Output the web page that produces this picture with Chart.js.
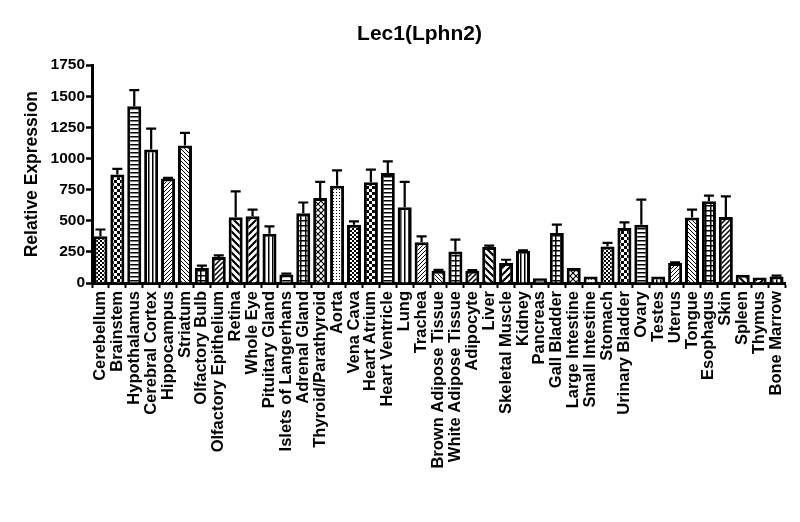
<!DOCTYPE html>
<html>
<head>
<meta charset="utf-8">
<script src="https://cdn.jsdelivr.net/npm/chart.js@4.4.1/dist/chart.umd.min.js"></script>
<style>
  body { margin: 0; background: #fff; }
  #wrap { width: 800px; height: 522px; }
</style>
</head>
<body>
<div id="wrap"><canvas id="chart" width="800" height="522"></canvas></div>
<script>
// Datos
const tissues = ["Cerebellum", "Brainstem", "Hypothalamus", "Cerebral Cortex", "Hippocampus", "Striatum",
    "Olfactory Bulb", "Olfactory Epithelium", "Retina", "Whole Eye", "Pituitary Gland", "Islets of Langerhans",
    "Adrenal Gland", "Thyroid/Parathyroid", "Aorta", "Vena Cava", "Heart Atrium", "Heart Ventricle", "Lung",
    "Trachea", "Brown Adipose Tissue", "White Adipose Tissue", "Adipocyte", "Liver", "Skeletal Muscle", "Kidney",
    "Pancreas", "Gall Bladder", "Large Intestine", "Small Intestine", "Stomach", "Urinary Bladder", "Ovary",
    "Testes", "Uterus", "Tongue", "Esophagus", "Skin", "Spleen", "Thymus", "Bone Marrow"];

const expression = [375, 871, 1420, 1072, 839, 1104, 121, 209, 528, 536, 396, 69, 560, 683, 782, 469, 809,
    884, 608, 327, 99, 254, 99, 289, 161, 260, 38, 402, 121, 53, 294, 442, 469, 53, 161, 527, 656, 531, 67, 45, 53];

const sem = [55, 46, 129, 169, 6, 102, 18, 13, 209, 53, 59, 6, 87, 129, 123, 26, 102, 94, 204, 48, 6, 94, 4,
    11, 26, 2, 0, 67, 0, 0, 28, 45, 201, 0, 4, 62, 46, 165, 0, 0, 7];

const yTicks = [0, 250, 500, 750, 1000, 1250, 1500, 1750];

// Tramas en blanco y negro, se repiten cada 15 barras
const patternKinds = ['fineChecker', 'checker', 'hLines', 'vLines', 'fineSlash', 'fineBack', 'grid',
    'slash', 'wideBack', 'wideSlash', 'vLines', 'hWide', 'grid', 'diamond', 'dots'];

function diag(g, s, dir) {
    g.beginPath();
    for (let k = -1; k <= 1; k++) {
        if (dir > 0) {
            g.moveTo(k * s - 1, s + 1);
            g.lineTo(k * s + s + 1, -1);
        } else {
            g.moveTo(k * s - 1, -1);
            g.lineTo(k * s + s + 1, s + 1);
        }
    }
    g.stroke();
}

function makePattern(ctx, kind) {
    const sizes = { fineChecker: 4, checker: 6, hLines: 4, vLines: 4, fineSlash: 4, fineBack: 4, grid: 5,
        slash: 5, wideBack: 7, wideSlash: 7, hWide: 7, diamond: 6, dots: 3 };
    const s = sizes[kind];
    const c = document.createElement('canvas');
    c.width = s; c.height = s;
    const g = c.getContext('2d');
    g.fillStyle = '#fff';
    g.fillRect(0, 0, s, s);
    g.fillStyle = '#000';
    g.strokeStyle = '#000';
    switch (kind) {
        case 'fineChecker': g.fillRect(0, 0, 2, 2); g.fillRect(2, 2, 2, 2); break;
        case 'checker': g.fillRect(0, 0, 3, 3); g.fillRect(3, 3, 3, 3); break;
        case 'hLines': g.fillRect(0, 0, s, 1.5); break;
        case 'hWide': g.fillRect(0, 0, s, 1.5); break;
        case 'vLines': g.fillRect(0, 0, 1.5, s); break;
        case 'grid': g.fillRect(0, 0, s, 1.5); g.fillRect(0, 0, 1.5, s); break;
        case 'fineSlash': g.lineWidth = 1; diag(g, s, 1); break;
        case 'fineBack': g.lineWidth = 1; diag(g, s, -1); break;
        case 'slash': g.lineWidth = 1.5; diag(g, s, 1); break;
        case 'wideSlash': g.lineWidth = 2.2; diag(g, s, 1); break;
        case 'wideBack': g.lineWidth = 2.2; diag(g, s, -1); break;
        case 'diamond': g.lineWidth = 1.2; diag(g, s, 1); diag(g, s, -1); break;
        case 'dots': g.fillRect(0, 0, 1, 1); break;
    }
    return ctx.createPattern(c, 'repeat');
}

const ctx = document.getElementById('chart').getContext('2d');
const fills = tissues.map((_, i) => makePattern(ctx, patternKinds[i % patternKinds.length]));

// Barras de error (solo hacia arriba, con tope)
const errorBars = {
    id: 'errorBars',
    afterDatasetsDraw(chart) {
        const meta = chart.getDatasetMeta(0);
        const yScale = chart.scales.y;
        const c = chart.ctx;
        c.save();
        c.strokeStyle = '#000';
        c.lineWidth = 2.2;
        meta.data.forEach((bar, i) => {
            if (!sem[i]) return;
            const top = yScale.getPixelForValue(expression[i] + sem[i]);
            c.beginPath();
            c.moveTo(bar.x, bar.y);
            c.lineTo(bar.x, top);
            c.moveTo(bar.x - 5, top);
            c.lineTo(bar.x + 5, top);
            c.stroke();
        });
        c.restore();
    }
};

// El titulo va un poco a la derecha del centro del lienzo
const shiftTitle = {
    id: 'shiftTitle',
    afterLayout(chart) {
        if (chart.titleBlock) {
            chart.titleBlock.left += 16;
            chart.titleBlock.right += 16;
        }
    }
};

const boldFont = (size) => ({ family: '"Liberation Sans", Arial, sans-serif', size: size, weight: 'bold' });

new Chart(ctx, {
    type: 'bar',
    data: {
        labels: tissues,
        datasets: [{
            data: expression,
            backgroundColor: fills,
            borderColor: '#000',
            borderWidth: 3,
            barPercentage: 0.83,
            categoryPercentage: 1.0,
        }]
    },
    options: {
        responsive: false,
        animation: false,
        layout: { padding: { left: 22, right: 15, top: 7, bottom: 44 } },
        plugins: {
            legend: { display: false },
            tooltip: { enabled: false },
            title: {
                display: true,
                text: 'Lec1(Lphn2)',
                color: '#000',
                font: boldFont(21),
                padding: { top: 15, bottom: 18 }
            }
        },
        scales: {
            x: {
                offset: true,
                afterFit: (scale) => { scale.height = 195; },
                grid: { drawOnChartArea: false, drawTicks: true, tickLength: 5, tickWidth: 2, tickColor: '#000' },
                border: { color: '#000', width: 3 },
                ticks: {
                    color: '#000',
                    font: boldFont(16.5),
                    autoSkip: false,
                    minRotation: 90,
                    maxRotation: 90,
                    padding: 3
                }
            },
            y: {
                min: 0,
                max: 1750,
                afterFit: (scale) => { scale.width = 70; },
                afterBuildTicks: (scale) => { scale.ticks = yTicks.map(v => ({ value: v })); },
                grid: { drawOnChartArea: false, drawTicks: true, tickLength: 6, tickWidth: 2.5, tickColor: '#000' },
                border: { color: '#000', width: 3 },
                title: {
                    display: true,
                    text: 'Relative Expression',
                    color: '#000',
                    font: boldFont(17.5),
                    padding: 0
                },
                ticks: {
                    color: '#000',
                    font: boldFont(15.5),
                    padding: 1,
                    callback: (value) => String(value)
                }
            }
        }
    },
    plugins: [errorBars, shiftTitle]
});
</script>
</body>
</html>
